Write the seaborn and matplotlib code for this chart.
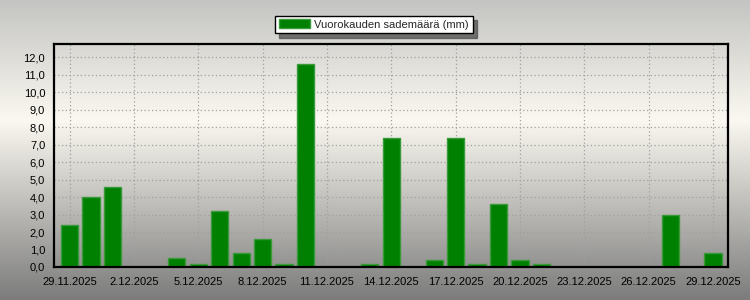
import numpy as np
import pandas as pd
import matplotlib
matplotlib.use("Agg")
import matplotlib.pyplot as plt
from matplotlib.patches import Patch
from matplotlib.ticker import MultipleLocator, FixedLocator
import seaborn as sns

dates = ["29.11.2025", "30.11.2025", "1.12.2025", "2.12.2025", "3.12.2025",
         "4.12.2025", "5.12.2025", "6.12.2025", "7.12.2025", "8.12.2025",
         "9.12.2025", "10.12.2025", "11.12.2025", "12.12.2025", "13.12.2025",
         "14.12.2025", "15.12.2025", "16.12.2025", "17.12.2025", "18.12.2025",
         "19.12.2025", "20.12.2025", "21.12.2025", "22.12.2025", "23.12.2025",
         "24.12.2025", "25.12.2025", "26.12.2025", "27.12.2025", "28.12.2025",
         "29.12.2025"]
rain = [2.4, 4.0, 4.6, 0.0, 0.0,
        0.5, 0.2, 3.2, 0.8, 1.6,
        0.2, 11.6, 0.0, 0.0, 0.2,
        7.4, 0.0, 0.4, 7.4, 0.2,
        3.6, 0.4, 0.2, 0.0, 0.0,
        0.0, 0.0, 0.0, 3.0, 0.0,
        0.8]
series_name = "Vuorokauden sademäärä (mm)"
y_ticks = [0, 1, 2, 3, 4, 5, 6, 7, 8, 9, 10, 11, 12]

sns.set_style("white")
plt.rcParams['font.family'] = ['Liberation Sans', 'DejaVu Sans']
plt.rcParams['font.size'] = 8

fig = plt.figure(figsize=(7.5, 3.0), dpi=100)

# background gradient
bg = fig.add_axes([0, 0, 1, 1], zorder=-10)
stops = np.array([0.0, 0.40, 1.0])
cols = np.array([[196, 196, 194], [250, 248, 240], [124, 124, 124]]) / 255.0
yy = np.linspace(0, 1, 300)
grad = np.stack([np.interp(yy, stops, cols[:, k]) for k in range(3)], axis=1)
bg.imshow(grad[:, None, :], aspect='auto', extent=[0, 1, 0, 1], origin='upper')
bg.axis('off')

ax = fig.add_axes([53.5 / 750, 1 - 267 / 300, (728 - 53.5) / 750, (267 - 44) / 300])
ax.set_facecolor('none')

df = pd.DataFrame({"date": dates, "rain": rain})
sns.barplot(data=df, x="date", y="rain", order=dates, color="#008000",
            saturation=1, width=0.8, edgecolor="#3a9a3a", linewidth=1.0, ax=ax)

ax.set_xlim(-0.75, 30.7)
ax.set_ylim(0, 12.75)

ax.xaxis.set_major_locator(FixedLocator(list(range(0, len(dates), 3))))
ax.set_xticklabels(dates[::3])
ax.xaxis.set_minor_locator(FixedLocator(list(range(len(dates)))))
ax.set_yticks(y_ticks)
ax.set_yticklabels([f"{v:.1f}".replace(".", ",") for v in y_ticks])
ax.yaxis.set_minor_locator(MultipleLocator(0.2))

ax.tick_params(axis='both', which='major', length=4, width=0.8, color='#444444',
               direction='out', labelsize=8, labelcolor='black', pad=2)
ax.tick_params(axis='both', which='minor', length=2.5, width=0.8, color='#444444',
               direction='out')
ax.tick_params(axis='x', which='minor', length=4)
ax.tick_params(axis='x', which='major', pad=3)

ax.set_xlabel("")
ax.set_ylabel("")
ax.set_axisbelow(True)
ax.grid(True, which='major', linestyle=(0, (1, 2)), color='#a0a0a0', linewidth=0.9)

for side in ['left', 'bottom', 'top', 'right']:
    ax.spines[side].set_visible(True)
    ax.spines[side].set_color('black')
    ax.spines[side].set_linewidth(1.6)

handle = Patch(facecolor="#008000", edgecolor="#3a9a3a", linewidth=1.0)
leg = fig.legend([handle], [series_name], loc='center', bbox_to_anchor=(374 / 750, 1 - 24.5 / 300),
                 frameon=True, fancybox=False, shadow={'ox': 3, 'oy': -3, 'color': '#555555', 'alpha': 0.8},
                 framealpha=1, edgecolor='black', handlelength=2.8, handleheight=0.8,
                 handletextpad=0.4, borderpad=0.35, fontsize=8)
leg.get_frame().set_linewidth(1.0)

fig.savefig("out.png", dpi=100)
